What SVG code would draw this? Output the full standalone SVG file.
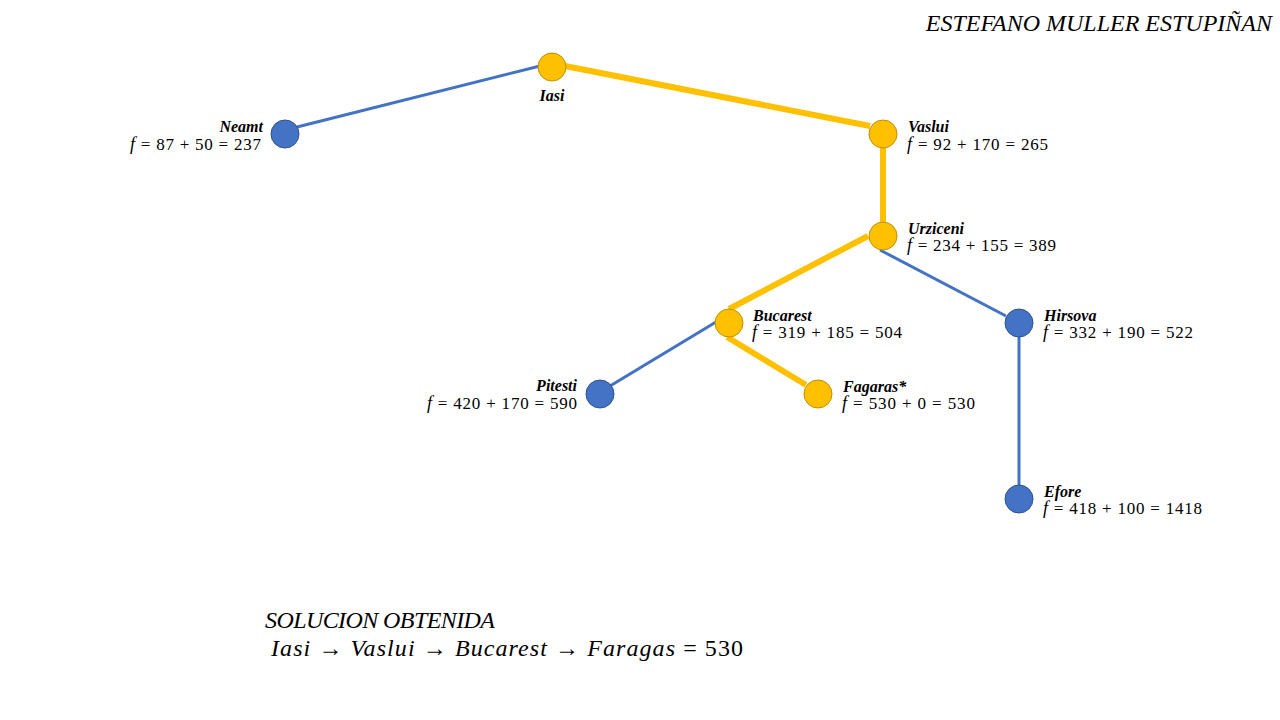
<svg xmlns="http://www.w3.org/2000/svg" width="1280" height="720" viewBox="0 0 1280 720">
<style>
.y{fill:#FFC000;stroke:#BF9000;stroke-width:1}
.b{fill:#4472C4;stroke:#2F528F;stroke-width:1}
.ly{stroke:#FFC000;stroke-width:6;fill:none}
.lb{stroke:#4472C4;stroke-width:3;fill:none}
.nm{font-family:"Liberation Serif",serif;font-weight:bold;font-style:italic;font-size:16px;fill:#000}
.eq{font-family:"Liberation Serif",serif;font-size:17px;fill:#000}
.eq .i{font-style:italic;font-size:18px}
.big{font-family:"Liberation Serif",serif;font-style:italic;font-size:24px;fill:#000}
</style>
<rect width="1280" height="720" fill="#fff"/>
<g id="connectors">
<line class="lb" x1="540" y1="66" x2="297" y2="127"/>
<line class="ly" x1="565" y1="66" x2="870" y2="126"/>
<line class="ly" x1="883" y1="148" x2="883" y2="222"/>
<line class="ly" x1="868" y1="236" x2="729" y2="309"/>
<line class="lb" x1="880" y1="250" x2="1006" y2="316"/>
<line class="lb" x1="716" y1="322" x2="610" y2="386"/>
<line class="ly" x1="727" y1="337" x2="806" y2="385"/>
<line class="lb" x1="1019" y1="337" x2="1019" y2="486"/>
</g>
<g id="iasi"><circle class="y" cx="552" cy="67" r="14"/><text class="nm" x="552" y="101" text-anchor="middle">Iasi</text></g>
<g id="neamt"><circle class="b" cx="285" cy="134" r="14"/><text class="nm" x="263" y="132" text-anchor="end">Neamt</text><text class="eq" x="130" y="150" textLength="131" lengthAdjust="spacing"><tspan class="i">f</tspan> = 87 + 50 = 237</text></g>
<g id="vaslui"><circle class="y" cx="883" cy="134" r="14"/><text class="nm" x="908" y="132">Vaslui</text><text class="eq" x="907" y="150" textLength="141" lengthAdjust="spacing"><tspan class="i">f</tspan> = 92 + 170 = 265</text></g>
<g id="urziceni"><circle class="y" cx="883" cy="236" r="14"/><text class="nm" x="908" y="234">Urziceni</text><text class="eq" x="907" y="251" textLength="149" lengthAdjust="spacing"><tspan class="i">f</tspan> = 234 + 155 = 389</text></g>
<g id="bucarest"><circle class="y" cx="729" cy="323" r="14"/><text class="nm" x="753" y="321">Bucarest</text><text class="eq" x="752" y="338" textLength="150" lengthAdjust="spacing"><tspan class="i">f</tspan> = 319 + 185 = 504</text></g>
<g id="hirsova"><circle class="b" cx="1019" cy="323" r="14"/><text class="nm" x="1044" y="321">Hirsova</text><text class="eq" x="1043" y="338" textLength="150" lengthAdjust="spacing"><tspan class="i">f</tspan> = 332 + 190 = 522</text></g>
<g id="pitesti"><circle class="b" cx="600" cy="394" r="14"/><text class="nm" x="577" y="391" text-anchor="end">Pitesti</text><text class="eq" x="427" y="409" textLength="150" lengthAdjust="spacing"><tspan class="i">f</tspan> = 420 + 170 = 590</text></g>
<g id="fagaras"><circle class="y" cx="818" cy="394" r="14"/><text class="nm" x="843" y="392">Fagaras*</text><text class="eq" x="842" y="409" textLength="133" lengthAdjust="spacing"><tspan class="i">f</tspan> = 530 + 0 = 530</text></g>
<g id="efore"><circle class="b" cx="1019" cy="499" r="14"/><text class="nm" x="1044" y="497">Efore</text><text class="eq" x="1043" y="514" textLength="159" lengthAdjust="spacing"><tspan class="i">f</tspan> = 418 + 100 = 1418</text></g>
<text class="big" x="1272" y="31" text-anchor="end" font-size="22.4">ESTEFANO MULLER ESTUPIÑAN</text>
<text class="big" x="265" y="628" textLength="230" lengthAdjust="spacing">SOLUCION  OBTENIDA</text>
<text class="big" x="271" y="656" textLength="472" lengthAdjust="spacing">Iasi → Vaslui → Bucarest → Faragas <tspan font-style="normal">= 530</tspan></text>
</svg>
